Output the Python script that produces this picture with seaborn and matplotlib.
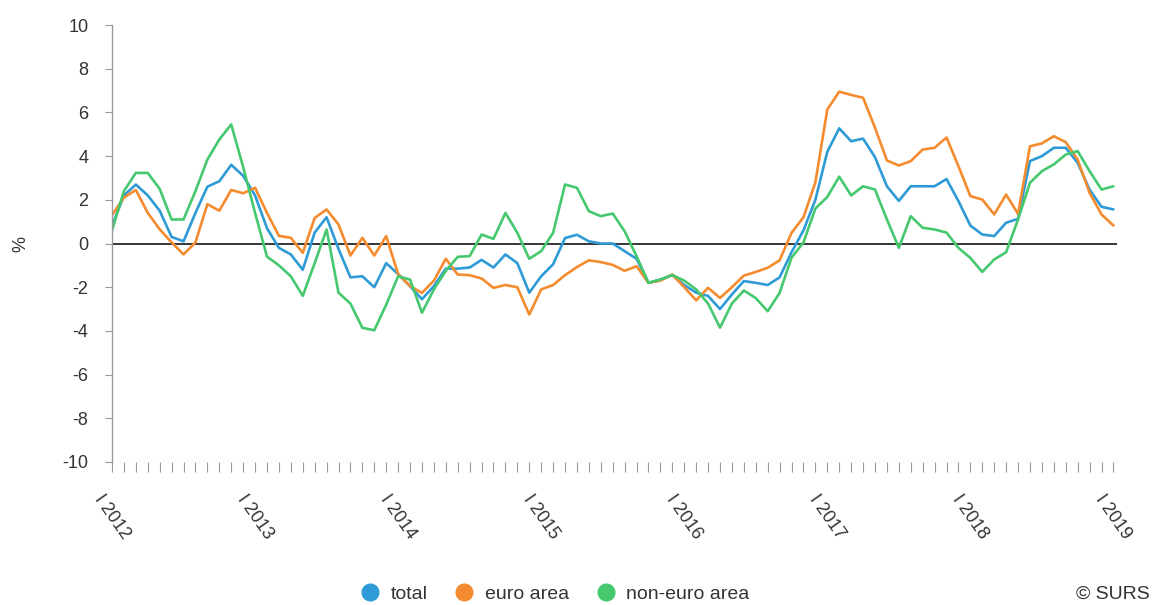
import numpy as np
import pandas as pd
import matplotlib
matplotlib.use("Agg")
import matplotlib.pyplot as plt
from matplotlib.lines import Line2D
import seaborn as sns

# monthly values, I 2012 .. I 2019 (%)
total = [0.8, 2.2, 2.7, 2.2, 1.5, 0.3, 0.1, 1.4, 2.6, 2.85, 3.6, 3.1,
         2.2, 0.7, -0.2, -0.5, -1.2, 0.5, 1.2, -0.25, -1.55, -1.5, -2.0, -0.9,
         -1.4, -1.95, -2.55, -1.95, -1.15, -1.15, -1.1, -0.75, -1.1, -0.5, -0.9, -2.25,
         -1.5, -0.95, 0.25, 0.4, 0.1, 0.0, 0.0, -0.35, -0.7, -1.8, -1.65, -1.45,
         -1.9, -2.25, -2.4, -3.0, -2.33, -1.72, -1.8, -1.9, -1.55, -0.4, 0.6, 2.0,
         4.2, 5.27, 4.68, 4.8, 3.95, 2.62, 1.95, 2.62, 2.62, 2.62, 2.95, 1.94,
         0.82, 0.41, 0.34, 0.95, 1.13, 3.77, 4.0, 4.38, 4.38, 3.69, 2.47, 1.68,
         1.56]
euro_area = [1.3, 2.1, 2.45, 1.4, 0.65, 0.05, -0.5, 0.05, 1.8, 1.5, 2.45, 2.3,
             2.55, 1.4, 0.35, 0.26, -0.43, 1.17, 1.56, 0.87, -0.55, 0.26, -0.55, 0.34,
             -1.4, -1.95, -2.26, -1.7, -0.7, -1.42, -1.45, -1.6, -2.03, -1.9, -2.0, -3.25,
             -2.1, -1.9, -1.45, -1.08, -0.77, -0.85, -0.98, -1.25, -1.04, -1.8, -1.7, -1.42,
             -2.0, -2.6, -2.03, -2.49, -2.0, -1.47, -1.3, -1.11, -0.77, 0.49, 1.2, 2.8,
             6.13, 6.95, 6.8, 6.67, 5.3, 3.8, 3.57, 3.77, 4.3, 4.38, 4.85, 3.54,
             2.17, 2.01, 1.33, 2.24, 1.35, 4.45, 4.58, 4.91, 4.64, 3.84, 2.32, 1.33,
             0.82]
non_euro_area = [0.6, 2.4, 3.23, 3.23, 2.5, 1.1, 1.1, 2.4, 3.84, 4.76, 5.45, 3.5,
                 1.4, -0.6, -1.0, -1.5, -2.4, -0.9, 0.64, -2.25, -2.75, -3.86, -3.97, -2.8,
                 -1.5, -1.65, -3.17, -2.1, -1.25, -0.61, -0.58, 0.41, 0.21, 1.4, 0.49, -0.7,
                 -0.35, 0.49, 2.7, 2.55, 1.48, 1.25, 1.37, 0.56, -0.58, -1.8, -1.65, -1.44,
                 -1.7, -2.1, -2.75, -3.85, -2.75, -2.15, -2.5, -3.1, -2.26, -0.65, 0.05, 1.6,
                 2.13, 3.06, 2.2, 2.62, 2.47, 1.1, -0.2, 1.25, 0.72, 0.64, 0.5, -0.2,
                 -0.66, -1.3, -0.73, -0.4, 1.1, 2.78, 3.31, 3.62, 4.07, 4.23, 3.31, 2.47,
                 2.62]

year_labels = ["I 2012", "I 2013", "I 2014", "I 2015", "I 2016", "I 2017", "I 2018", "I 2019"]
series_names = ["total", "euro area", "non-euro area"]
colors = ["#2f9bd6", "#f58b2f", "#45c86e"]

n = len(total)
months = np.arange(n)
df = pd.DataFrame({
    "month": np.tile(months, 3),
    "value": total + euro_area + non_euro_area,
    "series": np.repeat(series_names, n),
})

sns.set_style("white")
plt.rcParams['font.family'] = ['Liberation Sans', 'DejaVu Sans']
plt.rcParams['axes.unicode_minus'] = False

W, H = 1161, 605
fig = plt.figure(figsize=(W / 100, H / 100), dpi=100)
ax = fig.add_axes([112 / W, 1 - 462 / H, (1117 - 112) / W, (462 - 25) / H])

sns.lineplot(data=df, x="month", y="value", hue="series", hue_order=series_names,
             palette=colors, linewidth=1.9, ax=ax, legend=False)
ax.axhline(0, color="black", lw=1.1, zorder=1)

ax.set_xlim(0, 84.3)
ax.set_ylim(-10, 10)
ax.set_yticks(range(-10, 11, 2))
ax.set_xticks(months[::12])
ax.set_xticklabels(year_labels, rotation=-55, ha="center", va="top")
ax.set_xticks(months, minor=True)
ax.tick_params(axis="x", which="both", bottom=True, length=7, width=0.8, color="#999999",
               direction="out")
ax.tick_params(axis="x", which="major", pad=14, labelsize=13, labelcolor="#333333")
ax.tick_params(axis="y", left=True, length=5, width=0.8, color="#999999", labelsize=13,
               labelcolor="#333333", pad=12)
ax.set_xlabel("")
ax.set_ylabel("%", fontsize=13, color="#333333", labelpad=24)

for s in ["top", "right", "bottom"]:
    ax.spines[s].set_visible(False)
ax.spines["left"].set_color("#999999")
ax.spines["left"].set_linewidth(1.0)

handles = [Line2D([], [], marker="o", linestyle="", markersize=12, color=c) for c in colors]
fig.legend(handles, series_names, loc="center", bbox_to_anchor=(550 / W, 1 - 594 / H),
           ncol=3, frameon=False, fontsize=14, handletextpad=0.05, columnspacing=0.9,
           labelcolor="#333333")
fig.text(1150 / W, 1 - 594 / H, "\u00a9 SURS", ha="right", va="center", fontsize=14, color="#333333")

fig.savefig("out.png", dpi=100)
